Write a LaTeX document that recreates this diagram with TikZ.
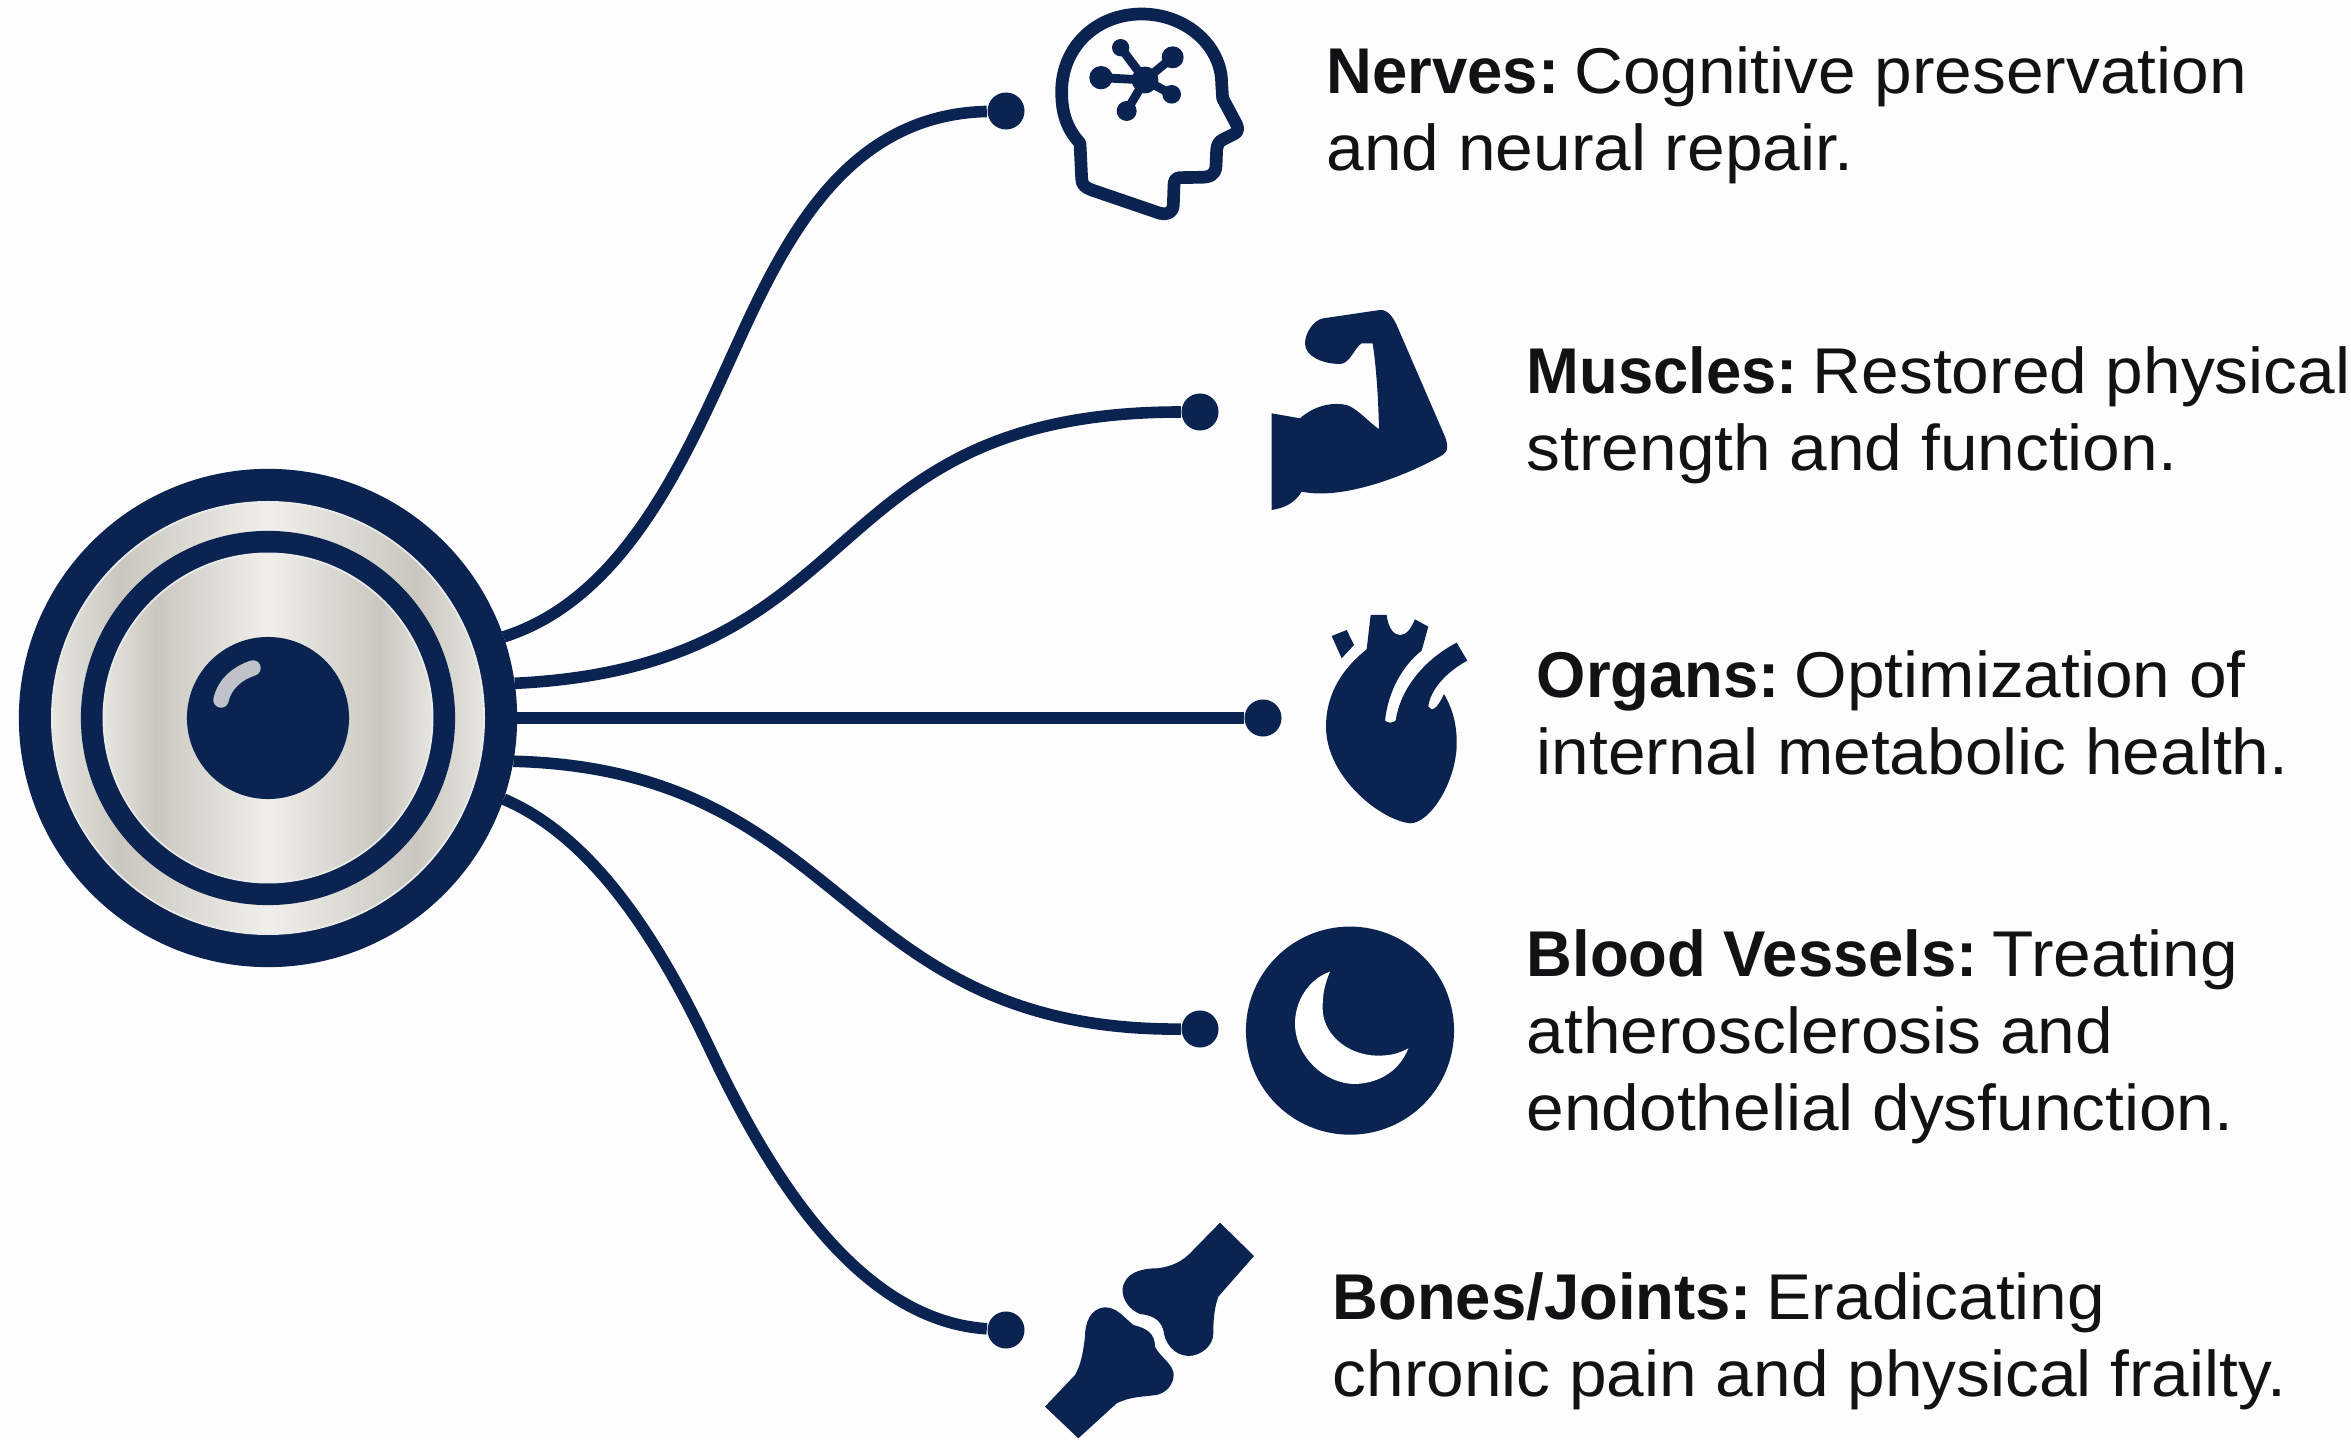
\documentclass[tikz,border=0pt]{standalone}
\usepackage{fontspec}
\setmainfont{Liberation Sans}[FakeStretch=1.045,BoldFeatures={FakeStretch=0.98}]
\definecolor{navy}{HTML}{0B2350}
\definecolor{ink}{HTML}{111213}
\definecolor{paper}{HTML}{FDFDFD}
\definecolor{gleam}{HTML}{BFC2C9}
\definecolor{steela}{HTML}{E6E5E0}
\definecolor{steelb}{HTML}{C9C7BF}
\definecolor{steelc}{HTML}{F0EFEB}
\pgfdeclarehorizontalshading{metal}{100bp}{
  color(0bp)=(steela); color(25bp)=(steela);
  color(33bp)=(steelb); color(50bp)=(steelc);
  color(67bp)=(steelb); color(75bp)=(steela);
  color(100bp)=(steela)}
\newcommand{\lblhead}[1]{\textbf{#1}\hspace{-2.9pt}}
\tikzset{
  disc/.style={circle,fill=navy,inner sep=0pt,outer sep=0pt},
  silver/.style={circle,shading=metal,draw=white!92!black,line width=.5pt,inner sep=0pt},
  wire/.style={draw=navy,line width=3.3pt},
  tip/.style={circle,fill=navy,inner sep=0pt,minimum size=3.7mm},
  iconline/.style={draw=navy,line width=3.6pt,line join=round},
  iconfill/.style={fill=navy},
  lbl/.style={anchor=west,align=left,text=ink,inner sep=0pt,font=\fontsize{18.4}{21.9}\selectfont}}
\begin{document}
\begin{tikzpicture}[x=0.01cm,y=-0.01cm]
  \useasboundingbox (0,0) rectangle (2351,1440);
  \fill[paper] (0,0) rectangle (2351,1440);
  % the hub
  \node[disc,minimum size=49.8mm] (hub) at (268,718) {};
  \node[silver,minimum size=43.2mm] (ringa) at (hub.center) {};
  \node[disc,minimum size=37.4mm] (ringb) at (hub.center) {};
  \node[silver,minimum size=32.9mm] (ringc) at (hub.center) {};
  \node[disc,minimum size=16.2mm] (pupil) at (hub.center) {};
  \draw[gleam,line width=4.4pt,line cap=round] (221,700) .. controls (225,683) and (238,673) .. (253,668);
  % ends of the wires
  \node[tip] (d1) at (1006,111) {};
  \node[tip] (d2) at (1200,412) {};
  \node[tip] (d3) at (1263,718) {};
  \node[tip] (d4) at (1200,1029) {};
  \node[tip] (d5) at (1006,1330) {};
  \coordinate (m1) at (730,360);
  \coordinate (m5) at (709,1047);
  \draw[wire] (hub.19) .. controls (620,600) and (680,470) .. (m1)
    .. controls (780,250) and (840,115) .. (d1);
  \draw[wire] (hub.8) .. controls (877,666) and (810,412) .. (d2);
  \draw[wire] (hub.0) -- (d3);
  \draw[wire] (hub.-10) .. controls (850,770) and (837,1031) .. (d4);
  \draw[wire] (hub.-19) .. controls (600,840) and (665,955) .. (m5)
    .. controls (760,1155) and (850,1320) .. (d5);
  % head
  \begin{scope}[shift={(1000,0)},scale=0.3333]
    \draw[iconline] (240,430) .. controls (200,385) and (185,340) .. (185,275)
      .. controls (185,140) and (290,42) .. (425,42)
      .. controls (560,42) and (665,140) .. (665,250) -- (668,295) -- (708,370)
      .. controls (718,390) and (712,398) .. (700,403) -- (670,418)
      .. controls (655,425) and (652,435) .. (650,450) -- (648,500)
      .. controls (645,525) and (630,532) .. (600,532) -- (540,533)
      .. controls (525,533) and (522,545) .. (522,555) -- (520,615)
      .. controls (518,640) and (500,645) .. (480,640) -- (275,570)
      .. controls (255,562) and (245,555) .. (245,535) -- cycle;
    \fill[iconfill] (435,240) circle (40) (362,143) circle (26) (518,172) circle (33)
      (303,233) circle (35) (515,283) circle (28) (380,333) circle (30);
    \draw[navy,line width=2.5pt] (435,240) -- (362,143) (435,240) -- (518,172)
      (435,240) -- (303,233) (435,240) -- (515,283) (435,240) -- (380,333);
  \end{scope}
  % arm
  \begin{scope}[shift={(1180,290)},scale=0.3333]
    \fill[iconfill] (275,370) -- (360,385) .. controls (400,350) and (450,335) .. (500,345)
      .. controls (530,355) and (560,390) .. (597,418) .. controls (595,330) and (590,240) .. (578,160)
      -- (545,160) .. controls (525,170) and (510,222) .. (480,222)
      .. controls (430,222) and (375,200) .. (375,160) .. controls (375,130) and (400,90) .. (430,85)
      -- (600,60) .. controls (625,58) and (640,85) .. (650,105) -- (795,440)
      .. controls (810,480) and (800,490) .. (770,505) .. controls (660,565) and (480,630) .. (365,605)
      .. controls (345,640) and (310,655) .. (275,660) -- cycle;
  \end{scope}
  % heart
  \begin{scope}[shift={(1240,590)},scale=0.3333]
    \fill[iconfill] (258,410) .. controls (258,330) and (290,250) .. (380,178) -- (392,75) -- (440,75)
      .. controls (445,120) and (465,135) .. (480,135) .. controls (500,135) and (510,120) .. (525,88)
      -- (565,110) -- (545,182) .. controls (490,225) and (445,300) .. (435,392)
      .. controls (445,400) and (455,400) .. (467,392) .. controls (480,300) and (550,210) .. (650,158)
      -- (682,212) .. controls (620,245) and (570,300) .. (565,350)
      .. controls (575,365) and (590,360) .. (612,312) .. controls (640,360) and (652,410) .. (650,470)
      .. controls (645,580) and (570,700) .. (510,700) .. controls (420,690) and (258,560) .. (258,410) -- cycle;
    \fill[iconfill] (275,138) -- (320,120) -- (342,165) -- (305,205) -- cycle;
  \end{scope}
  % moon
  \begin{scope}[shift={(1230,910)},scale=0.3333]
    \node[disc,minimum size=20.8mm] (moon) at (360,362) {};
    \fill[white] (300,185) .. controls (230,210) and (195,280) .. (195,340)
      .. controls (195,440) and (285,522) .. (375,522) .. controls (450,520) and (510,480) .. (535,415)
      .. controls (500,435) and (470,437) .. (440,437) .. controls (350,435) and (275,370) .. (278,290)
      .. controls (278,250) and (285,220) .. (300,185) -- cycle;
  \end{scope}
  % joint
  \begin{scope}[shift={(1000,1200)},scale=0.3333]
    \fill[iconfill] (660,68) -- (762,168) -- (655,290) .. controls (640,330) and (640,380) .. (640,400)
      .. controls (640,440) and (600,468) .. (565,468) .. controls (520,465) and (495,430) .. (490,390)
      .. controls (480,355) and (450,345) .. (420,342) .. controls (390,330) and (365,300) .. (368,265)
      .. controls (375,220) and (420,205) .. (470,205) .. controls (520,200) and (550,180) .. (570,160) -- cycle;
    \fill[iconfill] (135,620) -- (235,715) -- (350,610) .. controls (390,590) and (430,590) .. (470,585)
      .. controls (510,575) and (525,540) .. (520,515) .. controls (510,485) and (480,470) .. (465,440)
      .. controls (465,400) and (440,385) .. (400,375) .. controls (370,350) and (350,322) .. (315,322)
      .. controls (270,325) and (255,370) .. (255,410) .. controls (250,450) and (245,490) .. (225,525) -- cycle;
  \end{scope}
  % labels
  \node[lbl] (nerves) at (1326,115) {\lblhead{Nerves:} Cognitive preservation\\and neural repair.};
  \node[lbl] (muscles) at (1526,415) {\lblhead{Muscles:} Restored physical\\strength and function.};
  \node[lbl] (organs) at (1536,713) {\lblhead{Organs:} Optimization of\\internal metabolic health.};
  \node[lbl] (blood) at (1526,1037) {\lblhead{Blood Vessels:} Treating\\atherosclerosis and\\endothelial dysfunction.};
  \node[lbl] (bones) at (1332,1341) {\lblhead{Bones/Joints:} Eradicating\\chronic pain and physical frailty.};
\end{tikzpicture}
\end{document}
